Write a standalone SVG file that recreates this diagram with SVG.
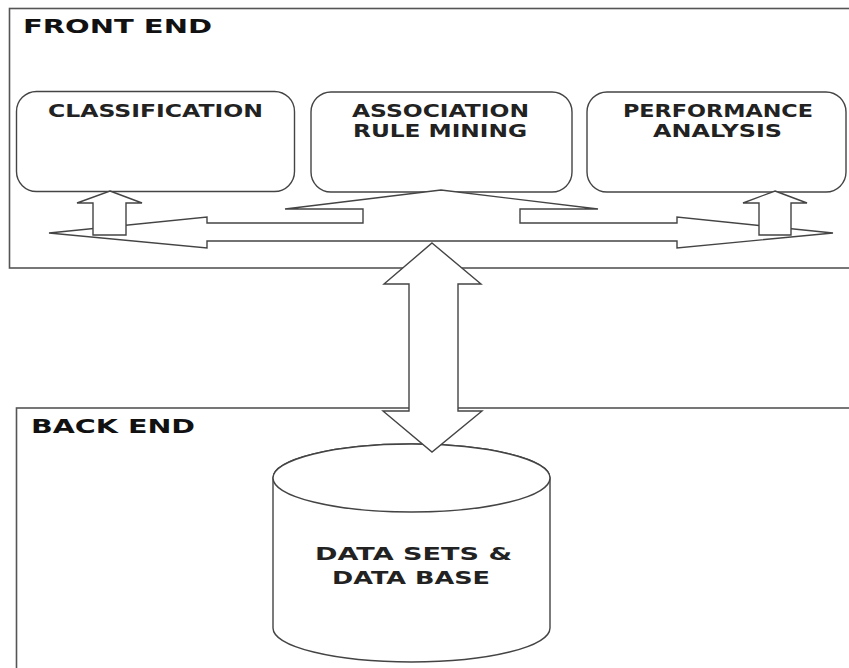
<svg xmlns="http://www.w3.org/2000/svg" width="849" height="668" viewBox="0 0 849 668">
  <style>
    .frame { fill: none; stroke: #555; stroke-width: 1.6; }
    .box { fill: #fff; stroke: #444; stroke-width: 1.4; }
    .arrow { fill: #fff; stroke: #444; stroke-width: 1.4; stroke-linejoin: miter; }
    .title { font-family: "DejaVu Sans", Verdana, sans-serif; font-weight: bold; font-size: 20px; fill: #111; }
    .label { font-family: "DejaVu Sans", Verdana, sans-serif; font-weight: bold; font-size: 17px; fill: #222; }
  </style>
  <rect width="849" height="668" fill="#fff"/>

  <!-- tier frames -->
  <g id="front-end">
    <rect class="frame" x="9.5" y="8.5" width="860" height="259.5"/>
    <text class="title" x="23" y="33" textLength="189" lengthAdjust="spacingAndGlyphs">FRONT END</text>
  </g>
  <g id="back-end">
    <rect class="frame" x="16.5" y="408" width="860" height="300"/>
    <text class="title" x="31" y="433" textLength="164" lengthAdjust="spacingAndGlyphs">BACK END</text>
  </g>

  <!-- front end modules -->
  <g id="classification">
    <rect class="box" x="16.5" y="91.5" width="278" height="100" rx="20" ry="20"/>
    <text class="label" x="48" y="117" textLength="215" lengthAdjust="spacingAndGlyphs">CLASSIFICATION</text>
  </g>
  <g id="association-rule-mining">
    <rect class="box" x="311" y="92" width="261" height="100" rx="20" ry="20"/>
    <text class="label" x="352" y="117" textLength="177" lengthAdjust="spacingAndGlyphs">ASSOCIATION</text>
    <text class="label" x="353" y="137" textLength="174" lengthAdjust="spacingAndGlyphs">RULE MINING</text>
  </g>
  <g id="performance-analysis">
    <rect class="box" x="587" y="92" width="259" height="100" rx="20" ry="20"/>
    <text class="label" x="623" y="117" textLength="190" lengthAdjust="spacingAndGlyphs">PERFORMANCE</text>
    <text class="label" x="653" y="137" textLength="129" lengthAdjust="spacingAndGlyphs">ANALYSIS</text>
  </g>

  <!-- back end store -->
  <g id="datasets-database">
    <path class="box" d="M273,478 A138.5,34 0 0 1 550,478 L550,628 A138.5,34 0 0 1 273,628 Z"/>
    <ellipse class="box" cx="411.5" cy="478" rx="138.5" ry="34"/>
    <text class="label" x="315" y="560" textLength="197" lengthAdjust="spacingAndGlyphs">DATA SETS &amp;</text>
    <text class="label" x="332" y="584" textLength="158" lengthAdjust="spacingAndGlyphs">DATA BASE</text>
  </g>

  <!-- block arrows -->
  <g id="connectors">
    <!-- three-way arrow: association module out to both sides -->
    <polygon class="arrow" points="49,233 207,217 207,223 363,223 363,209 285,209 441,190 598,209 520,209 520,223 677,223 677,217 833,233 677,248 677,241 207,241 207,248"/>
    <!-- up into classification -->
    <polygon class="arrow" points="110,191 142,203 126,203 126,235 93,235 93,203 77,203"/>
    <!-- up into performance analysis -->
    <polygon class="arrow" points="775,191 807,203 791,203 791,235 759,235 759,203 743,203"/>
    <!-- front end to back end, both ways -->
    <polygon class="arrow" points="432,243 481,284 458,284 458,411 482,411 432,452 383,411 409,411 409,284 384,284"/>
  </g>
</svg>
